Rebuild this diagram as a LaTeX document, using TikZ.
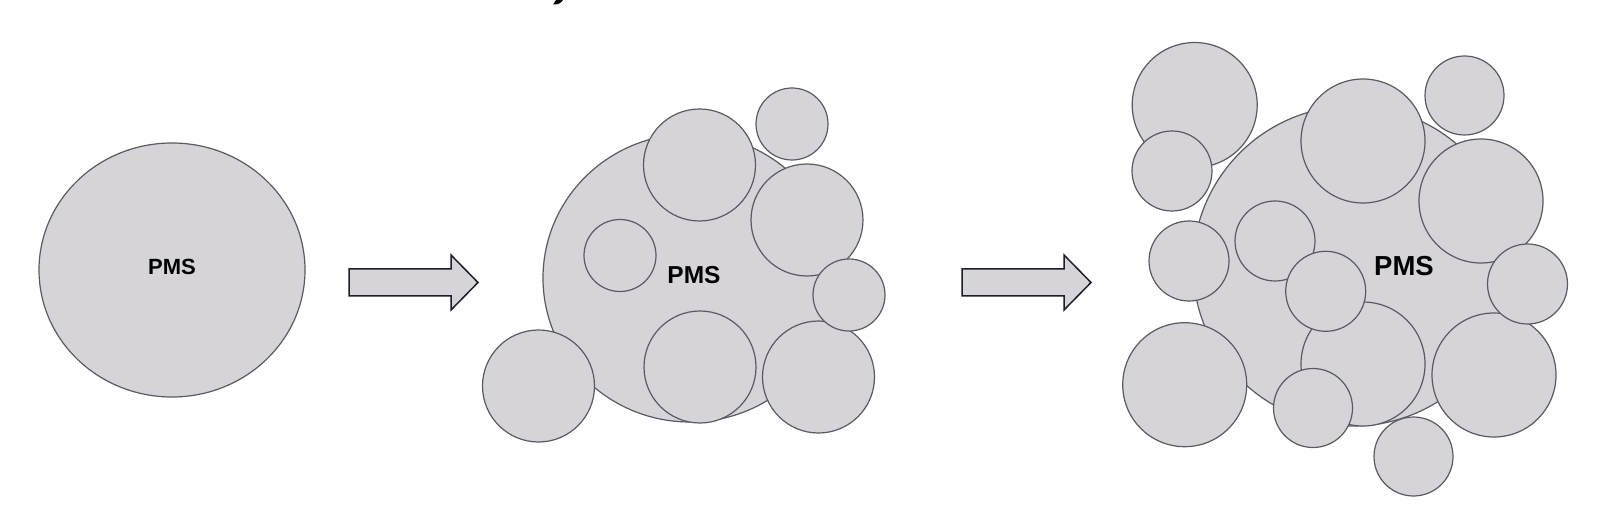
\documentclass[tikz,border=0pt]{standalone}
\usepackage{fontspec}
\setmainfont{Liberation Sans}
\definecolor{cfill}{HTML}{D6D3D9}
\definecolor{cline}{HTML}{5A5A62}
\definecolor{aline}{HTML}{1E1E28}
\tikzset{
  blob/.style={fill=cfill, draw=cline, line width=1.2pt},
  blockarrow/.style={fill=cfill, draw=aline, line width=1.5pt, line join=miter},
  lbl/.style={inner sep=0pt, font=\bfseries},
}
\begin{document}
\begin{tikzpicture}[x=1pt,y=-1pt]
\useasboundingbox[fill=white] (0,0) rectangle (1600,518);
% cropped glyph fragment at top
\fill[black] (553,4.5) .. controls (558,5) and (561,3) .. (563,0) -- (556,0) .. controls (555,2) .. (553,4.5) -- cycle;

% stage 1
\draw[blob] (172,270) ellipse [x radius=133pt, y radius=127pt];
\node[lbl, font=\bfseries\fontsize{22}{22}\selectfont] (pms1) at (172,267) {PMS};

% arrows
\draw[blockarrow] (349,269) -- (451,269) -- (451,255) -- (478,282.5) -- (451,310) -- (451,296) -- (349,296) -- cycle;
\draw[blockarrow] (962,269) -- (1064,269) -- (1064,255) -- (1091,282.5) -- (1064,310) -- (1064,296) -- (962,296) -- cycle;

% stage 2
\draw[blob] (690,278) ellipse [x radius=147pt, y radius=144pt];
\draw[blob] (699.5,165) circle[radius=56pt];
\draw[blob] (792,124) circle[radius=36pt];
\draw[blob] (807,220) circle[radius=56pt];
\draw[blob] (620,255.5) circle[radius=36pt];
\draw[blob] (700,367) circle[radius=56pt];
\draw[blob] (818.5,377) circle[radius=56pt];
\draw[blob] (849,295) circle[radius=36pt];
\draw[blob] (538.5,386) circle[radius=56pt];
\node[lbl, font=\bfseries\fontsize{24.5}{24.5}\selectfont] (pms2) at (694,275) {PMS};

% stage 3
\draw[blob] (1353,266) circle[radius=160pt];
\draw[blob] (1194.7,105) circle[radius=62.5pt];
\draw[blob] (1172,171) circle[radius=40pt];
\draw[blob] (1363,141) circle[radius=62pt];
\draw[blob] (1464.5,95.5) circle[radius=39.5pt];
\draw[blob] (1481,201) circle[radius=62pt];
\draw[blob] (1494,375) circle[radius=62pt];
\draw[blob] (1527.5,284) circle[radius=40pt];
\draw[blob] (1413.5,456.5) circle[radius=39.5pt];
\draw[blob] (1363,364) circle[radius=62pt];
\draw[blob] (1275,241) circle[radius=40pt];
\draw[blob] (1325.7,291.3) circle[radius=40pt];
\draw[blob] (1313,408) circle[radius=39.5pt];
\draw[blob] (1184.7,384.7) circle[radius=62pt];
\draw[blob] (1189,261) circle[radius=40pt];
\node[lbl, font=\bfseries\fontsize{27.5}{27.5}\selectfont] (pms3) at (1404,266) {PMS};
\end{tikzpicture}
\end{document}
